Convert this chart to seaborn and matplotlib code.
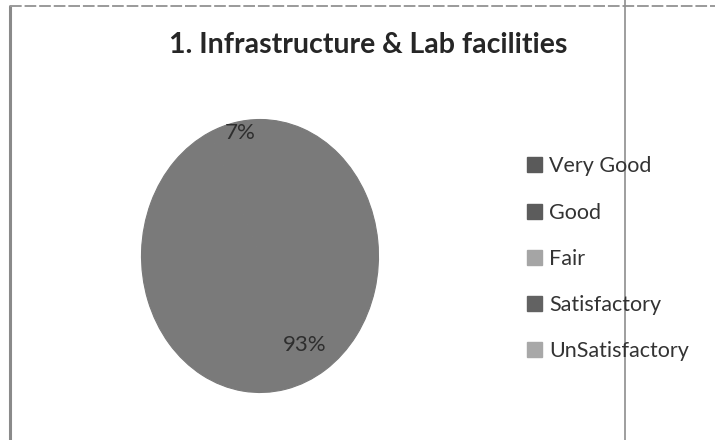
import matplotlib
matplotlib.use("Agg")
import matplotlib.pyplot as plt
import matplotlib.patches as mpatches
import seaborn as sns

# data
categories = ["Very Good", "Good", "Fair", "Satisfactory", "UnSatisfactory"]
shares = [93, 7, 0, 0, 0]
title = "1. Infrastructure & Lab facilities"

slice_colors = ["#7a7a7a", "#7a7a7a", "#a0a0a0", "#6a6a6a", "#a3a3a3"]
legend_colors = ["#5a5a5a", "#5c5c5c", "#a5a5a5", "#626262", "#a8a8a8"]
# label spots (axes data units) where the scan puts the percentages
label_spots = {"Very Good": (0.38, -0.655), "Good": (-0.17, 0.90)}

sns.set_theme(style="white")
plt.rcParams["font.family"] = ["Lato", "DejaVu Sans"]

fig = plt.figure(figsize=(7.15, 4.4), dpi=100)

# scanned frame lines
fig.add_artist(plt.Line2D([10 / 715, 10 / 715], [0, 1 - 6 / 440], color="#8a8a8a", lw=2.2, transform=fig.transFigure))
fig.add_artist(plt.Line2D([10 / 715, 1], [1 - 6 / 440, 1 - 6 / 440], color="#9a9a9a", lw=1.4, ls=(0, (6, 1.5)), transform=fig.transFigure))
fig.add_artist(plt.Line2D([625 / 715, 625 / 715], [0, 1], color="#8e8e8e", lw=1.2, transform=fig.transFigure))

ax = fig.add_axes([141.5 / 715, 47.5 / 440, 237 / 715, 273 / 440])
nonzero = [(c, v, col) for c, v, col in zip(categories, shares, slice_colors) if v > 0]
wedges, _, autotexts = ax.pie(
    [v for _, v, _ in nonzero],
    colors=[col for _, _, col in nonzero],
    startangle=90,
    counterclock=False,
    autopct="%1.0f%%",
    pctdistance=0.82,
    textprops=dict(color="#2e2e2e", fontsize=16),
)
for w in wedges:
    w.set_edgecolor(w.get_facecolor())
    w.set_linewidth(0.8)
for (name, _, _), txt in zip(nonzero, autotexts):
    txt.set_position(label_spots[name])
ax.set_aspect("auto")
ax.set_xlim(-1, 1)
ax.set_ylim(-1, 1)
ax.axis("off")

fig.text(368 / 715, 1 - 45 / 440, title, ha="center", va="center",
         fontsize=20.5, fontweight="bold", color="#262626")

handles = [mpatches.Patch(color=c, label=l) for l, c in zip(categories, legend_colors)]
leg = fig.legend(
    handles=handles,
    loc="upper left",
    bbox_to_anchor=(508 / 715, 1 - 137 / 440),
    frameon=False,
    handlelength=0.7,
    handleheight=0.7,
    handletextpad=0.3,
    labelspacing=1.22,
    fontsize=15.5,
)
for t in leg.get_texts():
    t.set_color("#333333")

fig.savefig("out.png", dpi=100, facecolor="white")
